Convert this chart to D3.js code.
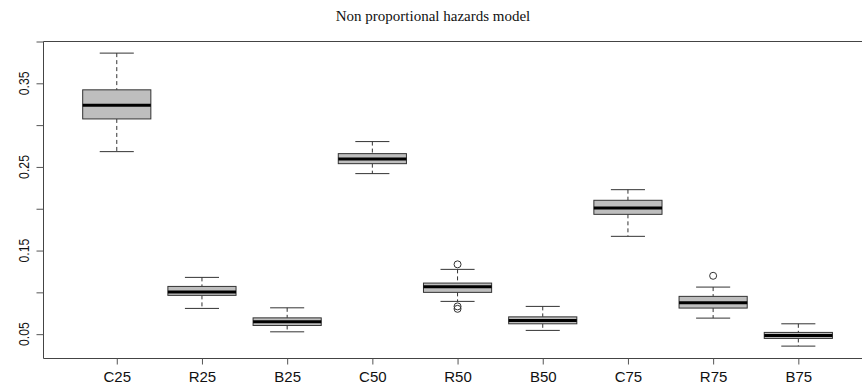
<!DOCTYPE html>
<html>
<head>
<meta charset="utf-8">
<script src="https://cdn.jsdelivr.net/npm/d3@7"></script>
<style>
  html, body { margin: 0; padding: 0; background: #fff; }
  svg { display: block; }
</style>
</head>
<body>
<svg id="chart" width="862" height="389"></svg>
<script>
// Box statistics per scenario
const categories = ["C25", "R25", "B25", "C50", "R50", "B50", "C75", "R75", "B75"];
const whiskerLow  = [0.2683, 0.0808, 0.0528, 0.2420, 0.0892, 0.0545, 0.1670, 0.0692, 0.0357];
const q1          = [0.3074, 0.0964, 0.0604, 0.2539, 0.1000, 0.0624, 0.1933, 0.0812, 0.0449];
const medians     = [0.3238, 0.1003, 0.0648, 0.2596, 0.1067, 0.0664, 0.2009, 0.0875, 0.0485];
const q3          = [0.3422, 0.1071, 0.0695, 0.2659, 0.1111, 0.0707, 0.2101, 0.0952, 0.0521];
const whiskerHigh = [0.3861, 0.1179, 0.0815, 0.2803, 0.1275, 0.0832, 0.2228, 0.1063, 0.0624];
const outliers    = [[], [], [], [], [0.1335, 0.0832, 0.0803], [], [], [0.1198], []];
const yTicks = [0.05, 0.10, 0.15, 0.20, 0.25, 0.30, 0.35, 0.40];
const yLabelled = [0.05, 0.15, 0.25, 0.35];
const title = "Non proportional hazards model";

const boxes = categories.map((c, i) => ({
  name: c, pos: i + 1,
  lo: whiskerLow[i], q1: q1[i], med: medians[i], q3: q3[i], hi: whiskerHigh[i],
  out: outliers[i]
}));

const svg = d3.select("#chart");
const plotLeft = 43.5, plotTop = 41.5, plotBottom = 358.5, plotRight = 871.6;

const x = d3.scaleLinear().domain([0.14, 9.86]).range([plotLeft, plotRight]);
const y = d3.scaleLinear().domain([0.0209, 0.40]).range([plotBottom, plotTop]);

const stroke = "#333";
const boxW = (x(2) - x(1)) * 0.8;
const stapleW = boxW / 2;

// Title
svg.append("text")
  .attr("x", 433).attr("y", 20.5)
  .attr("text-anchor", "middle")
  .attr("font-family", "Liberation Serif, Times New Roman, serif")
  .attr("font-size", 15)
  .attr("fill", "#111")
  .text(title);

// Frame (left, top, bottom)
svg.append("path")
  .attr("d", `M${plotRight},${plotTop}H${plotLeft}V${plotBottom}H${plotRight}`)
  .attr("fill", "none").attr("stroke", "#444").attr("stroke-width", 1);

// Y axis ticks
const yAxis = d3.axisLeft(y).tickValues(yTicks).tickSize(7).tickFormat("");
const gy = svg.append("g").attr("transform", `translate(${plotLeft},0)`).call(yAxis);
gy.select(".domain").remove();
gy.selectAll(".tick line").attr("stroke", "#555");

svg.append("g").selectAll("text").data(yLabelled).join("text")
  .attr("transform", d => `translate(28.5,${y(d)}) scale(1,0.82) rotate(-90)`)
  .attr("text-anchor", "middle")
  .attr("font-family", "Liberation Sans, Arial, sans-serif")
  .attr("font-size", 15)
  .attr("fill", "#111")
  .text(d => d.toFixed(2));

// X axis ticks and labels
const xAxis = d3.axisBottom(x).tickValues(boxes.map(b => b.pos)).tickSize(6)
  .tickFormat(d => categories[d - 1]);
const gx = svg.append("g").attr("transform", `translate(0,${plotBottom})`).call(xAxis);
gx.select(".domain").remove();
gx.selectAll(".tick line").attr("stroke", "#555");
gx.selectAll(".tick text")
  .attr("y", 23.2).attr("dy", 0)
  .attr("font-family", "Liberation Sans, Arial, sans-serif")
  .attr("font-size", 15)
  .attr("fill", "#111");

// Boxes
const g = svg.append("g").selectAll("g").data(boxes).join("g");

// dashed whiskers
g.append("line")
  .attr("x1", d => x(d.pos)).attr("x2", d => x(d.pos))
  .attr("y1", d => y(d.hi)).attr("y2", d => y(d.q3))
  .attr("stroke", stroke).attr("stroke-dasharray", "4,3");
g.append("line")
  .attr("x1", d => x(d.pos)).attr("x2", d => x(d.pos))
  .attr("y1", d => y(d.q1)).attr("y2", d => y(d.lo))
  .attr("stroke", stroke).attr("stroke-dasharray", "4,3");

// staples
g.append("line")
  .attr("x1", d => x(d.pos) - stapleW / 2).attr("x2", d => x(d.pos) + stapleW / 2)
  .attr("y1", d => y(d.hi)).attr("y2", d => y(d.hi))
  .attr("stroke", stroke);
g.append("line")
  .attr("x1", d => x(d.pos) - stapleW / 2).attr("x2", d => x(d.pos) + stapleW / 2)
  .attr("y1", d => y(d.lo)).attr("y2", d => y(d.lo))
  .attr("stroke", stroke);

// box
g.append("rect")
  .attr("x", d => x(d.pos) - boxW / 2).attr("width", boxW)
  .attr("y", d => y(d.q3)).attr("height", d => y(d.q1) - y(d.q3))
  .attr("fill", "#bebebe").attr("stroke", stroke).attr("stroke-width", 1);

// median
g.append("line")
  .attr("x1", d => x(d.pos) - boxW / 2).attr("x2", d => x(d.pos) + boxW / 2)
  .attr("y1", d => y(d.med)).attr("y2", d => y(d.med))
  .attr("stroke", "#000").attr("stroke-width", 3);

// outliers
g.selectAll("circle").data(d => d.out.map(v => ({ pos: d.pos, v }))).join("circle")
  .attr("cx", d => x(d.pos)).attr("cy", d => y(d.v)).attr("r", 3.5)
  .attr("fill", "none").attr("stroke", stroke).attr("stroke-width", 1);
</script>
</body>
</html>
